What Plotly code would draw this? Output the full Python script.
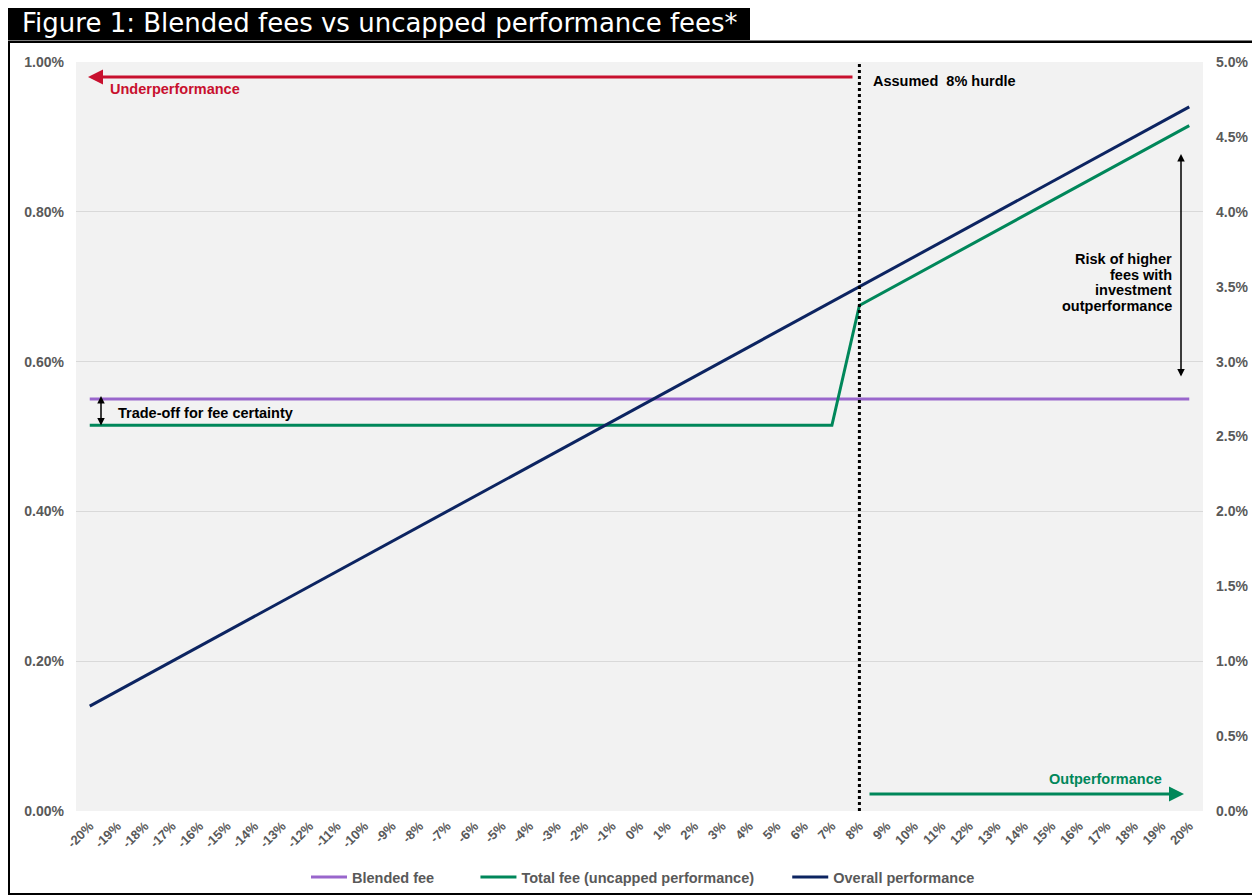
import plotly.graph_objects as go

# ---------------- data ----------------
categories = ["-20%", "-19%", "-18%", "-17%", "-16%", "-15%", "-14%", "-13%", "-12%", "-11%",
              "-10%", "-9%", "-8%", "-7%", "-6%", "-5%", "-4%", "-3%", "-2%", "-1%",
              "0%", "1%", "2%", "3%", "4%", "5%", "6%", "7%", "8%", "9%",
              "10%", "11%", "12%", "13%", "14%", "15%", "16%", "17%", "18%", "19%", "20%"]

blended_fee = [0.55, 0.55, 0.55, 0.55, 0.55, 0.55, 0.55, 0.55, 0.55, 0.55,
               0.55, 0.55, 0.55, 0.55, 0.55, 0.55, 0.55, 0.55, 0.55, 0.55,
               0.55, 0.55, 0.55, 0.55, 0.55, 0.55, 0.55, 0.55, 0.55, 0.55,
               0.55, 0.55, 0.55, 0.55, 0.55, 0.55, 0.55, 0.55, 0.55, 0.55, 0.55]

total_fee = [0.515, 0.515, 0.515, 0.515, 0.515, 0.515, 0.515, 0.515, 0.515, 0.515,
             0.515, 0.515, 0.515, 0.515, 0.515, 0.515, 0.515, 0.515, 0.515, 0.515,
             0.515, 0.515, 0.515, 0.515, 0.515, 0.515, 0.515, 0.515, 0.675, 0.695,
             0.715, 0.735, 0.755, 0.775, 0.795, 0.815, 0.835, 0.855, 0.875, 0.895, 0.915]

overall_performance = [0.7, 0.8, 0.9, 1.0, 1.1, 1.2, 1.3, 1.4, 1.5, 1.6,
                       1.7, 1.8, 1.9, 2.0, 2.1, 2.2, 2.3, 2.4, 2.5, 2.6,
                       2.7, 2.8, 2.9, 3.0, 3.1, 3.2, 3.3, 3.4, 3.5, 3.6,
                       3.7, 3.8, 3.9, 4.0, 4.1, 4.2, 4.3, 4.4, 4.5, 4.6, 4.7]

series_names = ["Blended fee", "Total fee (uncapped performance)", "Overall performance"]
hurdle_category = "8%"
risk_label_lines = ["Risk of higher", "fees with", "investment", "outperformance"]

# ---------------- layout helpers (reference-page pixel coords) ----------------
OFF = 8                      # page body margin
W, H = 1260 - OFF, 896 - OFF
L, R, T, B = 76, 1203, 62, 811


def px_x(px):
    return (px - L) / (R - L)


def px_y(py):
    return (B - py) / (B - T)


FONT = "Liberation Sans, Arial, sans-serif"
PURPLE = "#9966cc"
GREEN = "#00875a"
NAVY = "#0c2461"
RED = "#c8102e"
GRAY = "#595959"
NB = "\u00a0"

fig = go.Figure()
fig.add_trace(go.Scatter(x=categories, y=blended_fee, name=series_names[0] + NB * 9, mode="lines",
                         line=dict(color=PURPLE, width=3)))
fig.add_trace(go.Scatter(x=categories, y=total_fee, name=series_names[1] + NB * 7, mode="lines",
                         line=dict(color=GREEN, width=3)))
fig.add_trace(go.Scatter(x=categories, y=overall_performance, name=series_names[2], mode="lines",
                         line=dict(color=NAVY, width=3), yaxis="y2"))

hidx = categories.index(hurdle_category)

shapes = [
    # hurdle dotted line
    dict(type="line", xref="x", yref="y", x0=hidx, x1=hidx, y0=0, y1=1.0,
         line=dict(color="black", width=3, dash="dot")),
    # title bar
    dict(type="rect", xref="paper", yref="paper", x0=px_x(5), x1=px_x(750), y0=px_y(40), y1=px_y(5),
         fillcolor="black", line=dict(width=0), layer="above"),
    # frame
    dict(type="rect", xref="paper", yref="paper", x0=px_x(9), x1=px_x(1256), y0=px_y(894), y1=px_y(42),
         line=dict(color="black", width=2), layer="above"),
    dict(type="line", xref="paper", yref="paper", x0=px_x(0), x1=px_x(1260), y0=px_y(41), y1=px_y(41),
         line=dict(color="black", width=1)),
]

AFS = 14.5
ann_font = dict(family=FONT, size=AFS, color="black", weight="bold")
annotations = [
    dict(xref="paper", yref="paper", x=px_x(20), y=px_y(23), xanchor="left", yanchor="middle",
         text="Figure 1: Blended fees vs uncapped performance fees*", showarrow=False,
         font=dict(family="DejaVu Sans, sans-serif", size=26, color="white")),
    # red arrow
    dict(xref="paper", yref="paper", x=px_x(88), y=px_y(77), ax=854 - 88, ay=0,
         showarrow=True, arrowhead=2, arrowsize=1, arrowwidth=3, arrowcolor=RED, text=""),
    dict(xref="paper", yref="paper", x=px_x(108), y=px_y(89), xanchor="left", yanchor="middle",
         text="Underperformance", showarrow=False, font=dict(family=FONT, size=AFS, color=RED, weight="bold")),
    # green arrow
    dict(xref="paper", yref="paper", x=px_x(1184), y=px_y(794), ax=868 - 1184, ay=0,
         showarrow=True, arrowhead=2, arrowsize=1, arrowwidth=3, arrowcolor=GREEN, text=""),
    dict(xref="paper", yref="paper", x=px_x(1164), y=px_y(779), xanchor="right", yanchor="middle",
         text="Outperformance", showarrow=False, font=dict(family=FONT, size=AFS, color=GREEN, weight="bold")),
    # hurdle label
    dict(xref="paper", yref="paper", x=px_x(871), y=px_y(81), xanchor="left", yanchor="middle",
         text="Assumed  8% hurdle", showarrow=False, font=ann_font),
    # risk double arrow
    dict(xref="paper", yref="paper", x=px_x(1181), y=px_y(154), ax=0, ay=378 - 154,
         showarrow=True, arrowhead=2, startarrowhead=2, arrowside="end+start", arrowsize=1,
         arrowwidth=1.5, arrowcolor="black", text=""),
    # trade-off double arrow
    dict(xref="paper", yref="paper", x=px_x(101), y=px_y(396), ax=0, ay=427 - 396,
         showarrow=True, arrowhead=2, startarrowhead=2, arrowside="end+start", arrowsize=1,
         arrowwidth=1.5, arrowcolor="black", text=""),
    dict(xref="paper", yref="paper", x=px_x(116), y=px_y(413), xanchor="left", yanchor="middle",
         text="Trade-off for fee certainty", showarrow=False, font=ann_font),
]
for i, line_text in enumerate(risk_label_lines):
    annotations.append(dict(xref="paper", yref="paper", x=px_x(1174), y=px_y(259 + 15.7 * i),
                            xanchor="right", yanchor="middle", text=line_text, showarrow=False,
                            font=ann_font))

tick_font = dict(family=FONT, size=14, color=GRAY, weight="bold")

fig.update_layout(
    width=W, height=H,
    margin=dict(l=L - OFF, r=1260 - R, t=T - OFF, b=896 - B, pad=0, autoexpand=False),
    paper_bgcolor="white", plot_bgcolor="#f2f2f2",
    font=dict(family=FONT),
    shapes=shapes, annotations=annotations,
    showlegend=True,
    legend=dict(orientation="h", x=px_x(306), xanchor="left", y=px_y(877), yanchor="middle",
                font=dict(family=FONT, size=14.5, color=GRAY, weight="bold"),
                bgcolor="rgba(0,0,0,0)", itemwidth=36, tracegroupgap=0),
    xaxis=dict(type="category", range=[-0.5, len(categories) - 0.5], tickangle=-45,
               tickfont=dict(family=FONT, size=13, color=GRAY, weight="bold"),
               showgrid=False, showline=False, zeroline=False, ticks="", automargin=False,
               ticklabelstandoff=4),
    yaxis=dict(range=[0, 1.0], dtick=0.2, tickformat=".2f", ticksuffix="%",
               tickfont=tick_font, gridcolor="#d9d9d9", gridwidth=1, zeroline=False,
               showline=False, ticks="", ticklabelstandoff=11, automargin=False),
    yaxis2=dict(range=[0, 5.0], dtick=0.5, tickformat=".1f", ticksuffix="%",
                tickfont=tick_font, overlaying="y", side="right", showgrid=False,
                zeroline=False, showline=False, ticks="", ticklabelstandoff=12, automargin=False),
)

fig.write_html("out.html")
